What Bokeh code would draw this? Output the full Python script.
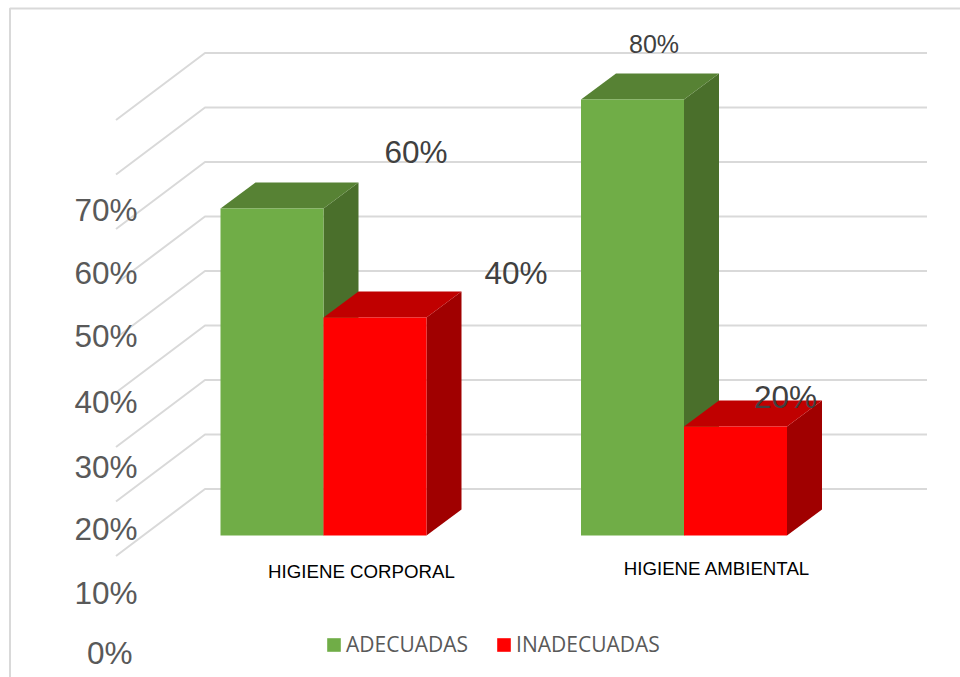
from bokeh.plotting import figure
from bokeh.models import Range1d, Legend, LegendItem
from bokeh.core.properties import value
from bokeh.embed import file_html
from bokeh.resources import INLINE

# ---- data ----
categories = ["HIGIENE CORPORAL", "HIGIENE AMBIENTAL"]
adecuadas = [60, 80]
inadecuadas = [40, 20]
series_names = ["ADECUADAS", "INADECUADAS"]
tick_labels = ["0%", "10%", "20%", "30%", "40%", "50%", "60%", "70%"]
grid_values = [0, 10, 20, 30, 40, 50, 60, 70, 80]

# ---- layout (page pixels) ----
PX_PER_PCT = 5.45
BASE = 535.0
W, H = 960, 677
def yv(py):
    return (BASE - py) / PX_PER_PCT

group_centers = [323.0, 683.5]
BAR_W = 103.0
DX, DY = 35.0, 26.0 / PX_PER_PCT          # bar depth
WALL_DY = 46.5 / PX_PER_PCT               # back wall floor above bar base
GRID_L, GRID_R, GRID_FX, GRID_FDY = 204.5, 926.5, 115.5, 67.0 / PX_PER_PCT

tick_y_px = [652, 592.5, 528.5, 466, 401.5, 335, 272, 209.5]
tick_x_px = [132, 137, 137, 137, 137, 137, 137, 137]
label_pos_px = [(415.5, 151.5), (515.5, 272.5), (653.5, 43.5), (785, 396.5)]
label_sizes = ["31.5px", "31.5px", "25px", "31.5px"]
cat_pos_px = [(361, 571), (716.5, 568)]

GREEN, GREEN_TOP, GREEN_SIDE = "#70AD47", "#578234", "#4A6F2B"
RED, RED_TOP, RED_SIDE = "#FF0000", "#C00000", "#A00000"
GRID = "#D9D9D9"

p = figure(width=W, height=H, output_backend="svg", toolbar_location=None,
           x_range=Range1d(0, W), y_range=Range1d(yv(H), yv(0)),
           min_border=0, outline_line_color=None)
p.axis.visible = False
p.grid.visible = False
p.background_fill_color = "white"

# frame
p.line([9.5, 9.5, W], [yv(H), yv(8), yv(8)], line_color=GRID, line_width=2)

# gridlines: back wall + side wall
for g in grid_values:
    gy = g + WALL_DY
    p.line([GRID_FX, GRID_L, GRID_R], [gy - GRID_FDY, gy, gy], line_color=GRID, line_width=2)

def bar3d(xc, v, front, top, side):
    x0, x1 = xc - BAR_W / 2, xc + BAR_W / 2
    p.patch([x1, x1 + DX, x1 + DX, x1], [0, DY, v + DY, v], fill_color=side, line_color=None)
    p.patch([x0, x0 + DX, x1 + DX, x1], [v, v + DY, v + DY, v], fill_color=top, line_color=None)
    return p.vbar(x=[xc], top=[v], bottom=[0], width=BAR_W, fill_color=front, line_color=None)

leg_g, leg_r = None, None
for xc, a, b in zip(group_centers, adecuadas, inadecuadas):
    leg_g = bar3d(xc - BAR_W / 2, a, GREEN, GREEN_TOP, GREEN_SIDE)
    leg_r = bar3d(xc + BAR_W / 2, b, RED, RED_TOP, RED_SIDE)

# value axis labels
p.text(x=tick_x_px, y=[yv(v) for v in tick_y_px], text=tick_labels,
       text_font=value("Liberation Sans"), text_font_size="31.5px", text_color="#595959",
       text_align="right", text_baseline="middle")

# data labels
for (lx, ly), txt, size in zip(label_pos_px, [f"{adecuadas[0]}%", f"{inadecuadas[0]}%", f"{adecuadas[1]}%", f"{inadecuadas[1]}%"], label_sizes):
    p.text(x=[lx], y=[yv(ly)], text=[txt], text_font=value("Liberation Sans"), text_font_size=size,
           text_color="#404040", text_align="center", text_baseline="middle")

# category labels
p.text(x=[c[0] for c in cat_pos_px], y=[yv(c[1]) for c in cat_pos_px], text=categories,
       text_font=value("Liberation Sans"), text_font_size="18.7px", text_color="#000000",
       text_align="center", text_baseline="middle")

legend = Legend(items=[LegendItem(label=series_names[0], renderers=[leg_g]),
                       LegendItem(label=series_names[1], renderers=[leg_r])],
                orientation="horizontal", location=(325, 19), border_line_color=None,
                background_fill_alpha=0, glyph_width=17, glyph_height=17, spacing=27,
                label_standoff=4, padding=6, margin=0,
                label_text_font="Open Sans", label_text_font_size="21px",
                label_text_color="#595959")
p.add_layout(legend, "center")

open("out.html", "w").write(file_html(p, INLINE))
